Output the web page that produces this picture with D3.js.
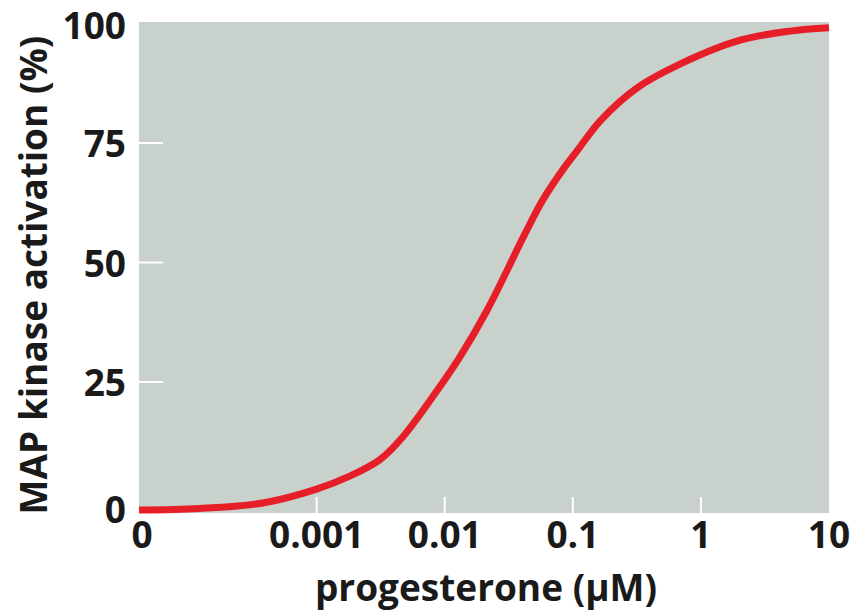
<!DOCTYPE html>
<html>
<head>
<meta charset="utf-8">
<script src="https://cdn.jsdelivr.net/npm/d3@7"></script>
<style>
  html, body { margin: 0; padding: 0; background: #ffffff; }
  svg { display: block; }
  text { font-family: "Open Sans", "Noto Sans", sans-serif; font-weight: 700; fill: #1a1a1a; }
</style>
</head>
<body>
<svg id="chart" width="856" height="616"></svg>
<script>
// ---- data ----
const concentration = [0, 0.000122, 0.00038, 0.001, 0.00181, 0.0031, 0.0047, 0.00866,
  0.0131, 0.0213, 0.0414, 0.0583, 0.0866, 0.109, 0.163, 0.316, 0.686, 2.02, 4.95, 10];
const activation = [-1.8, -1.46, -0.3, 2.6, 5.3, 8.7, 13.5, 23.1,
  30.2, 39.9, 55.5, 63.1, 70.0, 73.5, 79.6, 86.5, 91.5, 96.5, 98.4, 99.1];
const xTickValues = [0, 0.001, 0.01, 0.1, 1, 10];
const xTickLabels = ["0", "0.001", "0.01", "0.1", "1", "10"];
const yTickValues = [0, 25, 50, 75, 100];
const xAxisTitle = "progesterone (\u00b5M)";
const yAxisTitle = "MAP kinase activation (%)";

// ---- layout ----
const plot = { left: 139, right: 829, top: 22, bottom: 513 };
const zeroPosition = 4.1e-5;  // where "0" sits on the broken log axis

const svg = d3.select("#chart");

const xLog = d3.scaleLog().domain([zeroPosition, 10]).range([plot.left, plot.right]);
const x = c => xLog(c === 0 ? zeroPosition : c);
const y = d3.scaleLinear().domain([0, 100]).range([501.5, 23.5]);

// background panel
svg.append("rect")
  .attr("x", plot.left).attr("y", plot.top)
  .attr("width", plot.right - plot.left).attr("height", plot.bottom - plot.top)
  .attr("fill", "#c9d1cc");

// white inner ticks
svg.append("g").selectAll("line")
  .data(yTickValues.filter(v => v > 0 && v < 100))
  .join("line")
  .attr("x1", plot.left).attr("x2", plot.left + 24)
  .attr("y1", d => y(d)).attr("y2", d => y(d))
  .attr("stroke", "#ffffff").attr("stroke-width", 2);

svg.append("g").selectAll("line")
  .data(xTickValues.filter(v => v > 0 && v < 10))
  .join("line")
  .attr("x1", d => x(d)).attr("x2", d => x(d))
  .attr("y1", plot.bottom).attr("y2", plot.bottom - 16)
  .attr("stroke", "#ffffff").attr("stroke-width", 2);

// curve
const line = d3.line()
  .x((d, i) => x(concentration[i]))
  .y((d, i) => y(activation[i]))
  .curve(d3.curveCatmullRom.alpha(0.5));

svg.append("path")
  .datum(concentration)
  .attr("d", line)
  .attr("fill", "none")
  .attr("stroke", "#e61e28")
  .attr("stroke-width", 7)
  .attr("stroke-linecap", "butt");

// y tick labels
const yLabelShift = d => (d === 0 ? 8.5 : d === 100 ? 2.5 : 1);
svg.append("g").selectAll("text")
  .data(yTickValues)
  .join("text")
  .attr("x", 126)
  .attr("y", d => y(d) + yLabelShift(d))
  .attr("dy", "0.36em")
  .attr("text-anchor", "end")
  .attr("font-size", 37)
  .text(d => d);

// x tick labels
svg.append("g").selectAll("text")
  .data(xTickValues)
  .join("text")
  .attr("x", d => x(d) + (d === 0 ? 3 : 0))
  .attr("y", 548)
  .attr("text-anchor", "middle")
  .attr("font-size", 37)
  .text((d, i) => xTickLabels[i]);

// axis titles
svg.append("text")
  .attr("x", 486).attr("y", 601)
  .attr("text-anchor", "middle")
  .attr("font-size", 37)
  .text(xAxisTitle);

svg.append("text")
  .attr("transform", "translate(47,275) rotate(-90)")
  .attr("text-anchor", "middle")
  .attr("font-size", 37)
  .text(yAxisTitle);
</script>
</body>
</html>
